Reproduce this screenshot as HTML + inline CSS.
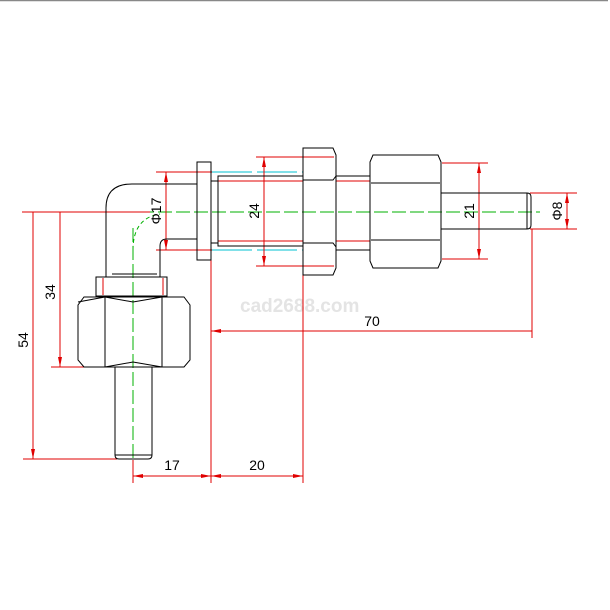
<!DOCTYPE html>
<html><head><style>html,body{margin:0;padding:0;background:#fff}svg{display:block}</style></head><body>
<svg width="610" height="610" viewBox="0 0 610 610" xmlns="http://www.w3.org/2000/svg" font-family="Liberation Sans, sans-serif">
<line x1="0" y1="0.5" x2="608" y2="0.5" stroke="#888" stroke-width="1.5"/>
<text x="240" y="312" font-size="19" fill="#e4e4e4" font-weight="bold">cad2688.com</text>
<!-- centerlines -->
<g stroke="#00b000" stroke-width="1" fill="none" stroke-dasharray="14,4">
<line x1="140" y1="212" x2="540" y2="212"/>
<line x1="133" y1="228" x2="133" y2="480"/>
<path d="M133 250 Q133 218 160 214" stroke-dasharray="4,3"/>
</g>
<!-- cyan -->
<g stroke="#00c0d0" stroke-width="1" stroke-dasharray="40,5">
<line x1="212" y1="172" x2="303" y2="172"/>
<line x1="212" y1="250" x2="303" y2="250"/>
</g>
<!-- red dims -->
<g stroke="#e00000" stroke-width="1" fill="none">
<line x1="22" y1="212" x2="150" y2="212"/>
<line x1="23" y1="459" x2="117" y2="459"/>
<line x1="33" y1="212" x2="33" y2="459"/>
<line x1="51" y1="367" x2="90" y2="367"/>
<line x1="60" y1="212" x2="60" y2="367"/>
<line x1="156" y1="172" x2="212" y2="172"/>
<line x1="156" y1="250" x2="212" y2="250"/>
<line x1="166" y1="172" x2="166" y2="250"/>
<line x1="256" y1="157" x2="334" y2="157"/>
<line x1="256" y1="266" x2="334" y2="266"/>
<line x1="264" y1="157" x2="264" y2="266"/>
<line x1="218" y1="181" x2="303" y2="181"/>
<line x1="218" y1="241" x2="303" y2="241"/>
<line x1="336" y1="181" x2="370" y2="181"/>
<line x1="336" y1="241" x2="370" y2="241"/>
<line x1="442" y1="163" x2="488" y2="163"/>
<line x1="442" y1="259" x2="488" y2="259"/>
<line x1="479" y1="163" x2="479" y2="259"/>
<line x1="530" y1="193" x2="577" y2="193"/>
<line x1="530" y1="229" x2="577" y2="229"/>
<line x1="567" y1="193" x2="567" y2="229"/>
<line x1="532" y1="229" x2="532" y2="338"/>
<line x1="211" y1="260" x2="211" y2="483"/>
<line x1="303" y1="275" x2="303" y2="483"/>
<line x1="133" y1="460" x2="133" y2="483"/>
<line x1="211" y1="331" x2="532" y2="331"/>
<line x1="133" y1="476" x2="303" y2="476"/>
<line x1="103" y1="278" x2="103" y2="295"/>
<line x1="163" y1="278" x2="163" y2="295"/>
</g>
<g fill="#e00000">
<path d="M33 459 l-2 -10 h4z"/><path d="M60 367 l-2 -10 h4z"/>
<path d="M166 172 l-2 10 h4z"/><path d="M166 250 l-2 -10 h4z"/>
<path d="M264 157 l-2 10 h4z"/><path d="M264 266 l-2 -10 h4z"/>
<path d="M479 163 l-2 10 h4z"/><path d="M479 259 l-2 -10 h4z"/>
<path d="M567 193 l-2 10 h4z"/><path d="M567 229 l-2 -10 h4z"/>
<path d="M211 331 l10 -2 v4z"/>
<path d="M133 476 l10 -2 v4z"/><path d="M211 476 l-10 -2 v4z"/>
<path d="M211 476 l10 -2 v4z"/><path d="M303 476 l-10 -2 v4z"/>
</g>
<g font-size="14" fill="#000">
<text transform="translate(28,340) rotate(-90)" text-anchor="middle">54</text>
<text transform="translate(55,292) rotate(-90)" text-anchor="middle">34</text>
<text transform="translate(161,211) rotate(-90)" text-anchor="middle">Φ17</text>
<text transform="translate(259,211) rotate(-90)" text-anchor="middle">24</text>
<text transform="translate(474,211) rotate(-90)" text-anchor="middle">21</text>
<text transform="translate(562,211) rotate(-90)" text-anchor="middle">Φ8</text>
<text x="372" y="326" text-anchor="middle">70</text>
<text x="172" y="470" text-anchor="middle">17</text>
<text x="257" y="470" text-anchor="middle">20</text>
</g>
<!-- black geometry -->
<g stroke="#000" stroke-width="1" fill="none">
<path d="M106 277 V208 Q106 184 132 184 H197"/>
<path d="M160 277 V246 Q160 239 167 239 H197"/>
<line x1="112" y1="274" x2="157" y2="274"/>
<rect x="96" y="277" width="71" height="19"/>
<rect x="197" y="162" width="14" height="98"/>
<line x1="211" y1="181" x2="218" y2="181"/><line x1="211" y1="243" x2="218" y2="243"/>
<rect x="218" y="176" width="85" height="70"/>
<path d="M303 148 H333 L336 155 V268 L333 275 H303 Z"/>
<path d="M303 180 H333 L336 176 M303 243 H333 L336 247"/>
<line x1="336" y1="176" x2="370" y2="176"/><line x1="336" y1="250" x2="370" y2="250"/>
<path d="M373 155 H438 L441 162 V261 L438 268 H373 L370 261 V162 Z"/>
<line x1="371" y1="183" x2="440" y2="183"/><line x1="371" y1="240" x2="440" y2="240"/>
<path d="M441 193 H527 Q531 193 531 197 V225 Q531 229 527 229 H441"/>
<line x1="527" y1="193" x2="527" y2="229"/>
<path d="M84 297 H184 L190 305 V360 L184 367 H84 L78 360 V305 Z"/>
<path d="M78 302 Q105 297 105 297 M105 297 V367 M162 297 V367 M105 297 L133 302 L162 297 M105 367 L133 362 L162 367"/>
<path d="M115 367 V455 Q115 459 119 459 H148 Q152 459 152 455 V367"/>
<line x1="115" y1="455" x2="152" y2="455"/>
</g>
</svg>
</body></html>
